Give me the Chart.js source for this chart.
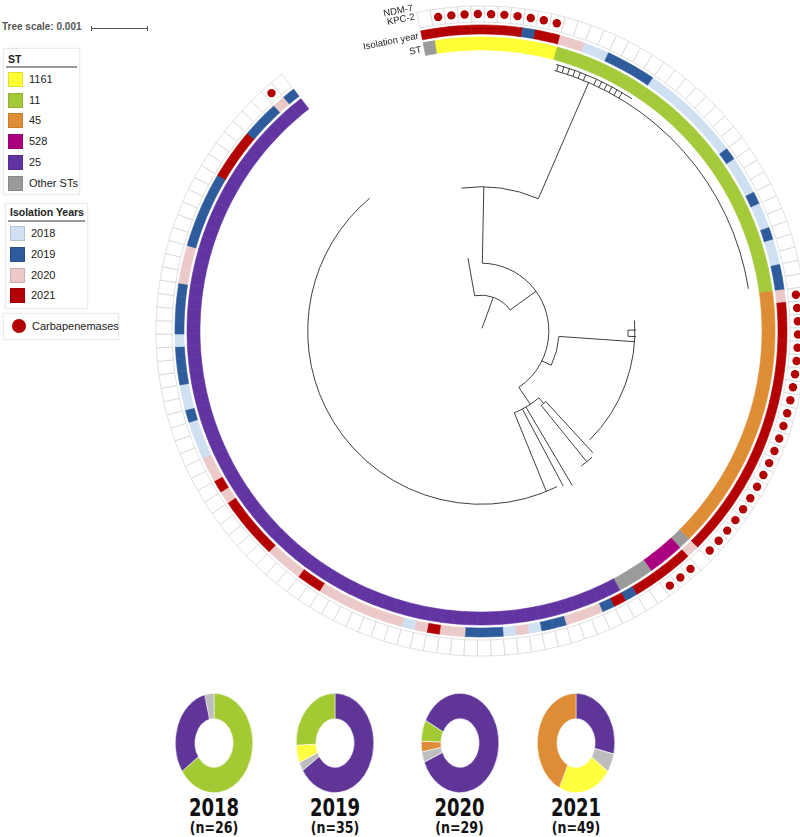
<!DOCTYPE html>
<html>
<head>
<meta charset="utf-8">
<script src="https://cdn.jsdelivr.net/npm/chart.js@4.4.1/dist/chart.umd.min.js"></script>
<style>
  body { margin:0; width:800px; height:837px; overflow:hidden; background:#fff; position:relative;
         font-family:"Liberation Sans", Arial, sans-serif; color:#222; }
  canvas { position:absolute; }
  #ring { left:145.5px; top:-4.5px; width:661px; height:670px; }
  .pie { top:693px; width:78px; height:100px; }
  .box { position:absolute; background:#fff; border:1px solid #ececec; box-shadow:0 0 2px #f0f0f0; }
  .ttl { position:absolute; left:4px; font-weight:bold; font-size:10.5px; color:#222; }
  .rule { position:absolute; left:2px; right:2px; height:0; border-top:2px solid #9a9a9a; }
  .sw { position:absolute; left:4px; width:13px; height:13px; border:1px solid rgba(0,0,0,0.12); }
  .lab { position:absolute; left:25px; font-size:11px; line-height:14px; color:#222; }
  #scaleTxt { position:absolute; left:2px; top:21px; font-size:10px; font-weight:bold; color:#555; }
  #scaleBar { position:absolute; left:91px; top:28px; width:57px; border-top:1px solid #555; }
  #scaleBar:before, #scaleBar:after { content:""; position:absolute; top:-3px; height:5px; border-left:1px solid #555; }
  #scaleBar:before { left:0; } #scaleBar:after { right:0; }
  .yr { position:absolute; width:80px; text-align:center; font-weight:bold; color:#111;
        font-family:"Liberation Sans Narrow","Arial Narrow","DejaVu Sans Condensed",sans-serif; font-stretch:condensed; }
  .yr.big { top:796px; font-size:20px; transform:scaleY(1.2); }
  .yr.small { top:819px; font-size:14px; transform:scaleY(1.15); }
</style>
</head>
<body>
<div id="scaleTxt">Tree scale: 0.001</div>
<div id="scaleBar"></div>

<div class="box" id="stBox" style="left:3px;top:48px;width:75px;height:145px;">
  <div class="ttl" style="top:4px;">ST</div>
  <div class="rule" style="top:17px;"></div>
</div>
<div class="box" id="yrBox" style="left:5px;top:203px;width:81px;height:104px;">
  <div class="ttl" style="top:2px;">Isolation Years</div>
  <div class="rule" style="top:16px;"></div>
</div>
<div class="box" style="left:3px;top:313px;width:114px;height:25px;">
  <div style="position:absolute;left:8px;top:5px;width:14px;height:14px;border-radius:50%;background:#b30000;"></div>
  <div class="lab" style="left:28px;top:5px;">Carbapenemases</div>
</div>

<canvas id="ring" width="670" height="670"></canvas>
<canvas id="pie0" class="pie" width="100" height="100" style="left:175px;width:78px;height:100px;"></canvas>
<canvas id="pie1" class="pie" width="100" height="100" style="left:296px;width:78px;height:100px;"></canvas>
<canvas id="pie2" class="pie" width="100" height="100" style="left:420.5px;width:78px;height:100px;"></canvas>
<canvas id="pie3" class="pie" width="100" height="100" style="left:537px;width:78px;height:100px;"></canvas>

<script>
// ---- legend / categories
const stNames = ["1161", "11", "45", "528", "25", "Other STs"];
const stColors = ["#ffff33", "#a4ca3a", "#df8d35", "#ab007f", "#6234a2", "#9a9a9a"];
const yearNames = ["2018", "2019", "2020", "2021"];
const yearColors = ["#cfe0f2", "#2d5b9b", "#ecc9c9", "#b30000"];

// ---- ring data, tips in clockwise order (run lengths)
const stRuns = [["Other STs",1],["1161",10],["11",28],["45",22],["Other STs",1],["528",3],["Other STs",3],["25",71]];
const yearRuns = [
  ["2021",8],["2019",1],["2021",2],["2020",2],["2018",2],["2019",4],["2018",8],["2019",1],["2018",3],["2019",1],
  ["2018",2],["2019",1],["2018",2],["2019",2],
  ["2020",1],["2021",21],["2020",1],["2021",5],["2019",1],["2021",1],["2019",1],
  ["2020",3],["2019",2],["2018",1],["2020",1],["2018",1],["2019",3],["2020",2],["2021",1],["2020",1],["2018",1],
  ["2020",7],["2021",2],["2020",3],["2021",5],["2020",1],["2021",1],["2020",2],["2018",3],["2019",1],["2018",2],
  ["2019",3],["2018",1],["2019",4],["2020",3],["2019",6],["2021",4],["2019",3],["2020",1],["2019",1]
];
const carbaTips = [1,2,3,4,5,6,7,8,9,10,
  39,40,41,42,43,44,45,46,47,48,49,50,51,52,53,54,55,56,57,58,59,60,
  62,63,64,137];

// ---- tree (depth in units of 0.001 subst./site, position in tip units)
const treeMaxDepth = 4.93;
const treeArcs = [ // [depth, fromTip, toTip]
  [0.63, 0, 26.8], [1.19, 4.7, 65.1], [2.53, 1.0, 14.0], [4.75, 10.8, 38.0], [4.86, 10.8, 18.0],
  [1.37, 43.4, 52.6], [2.70, 40.1, 60.5], [2.58, 41.6, 42.6],
  [1.55, 62.2, 70.0], [1.68, 61.5, 63.0], [2.95, 62.0, 64.0], [3.04, 68.4, 137.6]
];
const treeRays = [ // [tip, fromDepth, toDepth]
  [12.6, 0.05, 0.63], [0, 0.63, 1.30], [26.8, 0.63, 1.19], [4.7, 1.19, 2.53], [14.0, 2.53, 4.75],
  [11, 4.75, 4.86], [11.5, 4.75, 4.86], [12, 4.75, 4.86], [12.5, 4.75, 4.86], [13, 4.75, 4.86], [13.5, 4.75, 4.86],
  [14.5, 4.75, 4.86], [15, 4.75, 4.86], [15.5, 4.75, 4.86], [16, 4.75, 4.86], [16.5, 4.75, 4.86], [17, 4.75, 4.86],
  [52.6, 1.19, 1.37], [43.4, 1.37, 2.70], [41.6, 2.58, 2.72], [42.6, 2.58, 2.72],
  [65.1, 1.19, 1.55], [62.2, 1.55, 1.68], [61.5, 1.68, 2.90], [63.0, 1.68, 2.95],
  [66.5, 1.55, 3.15], [67.6, 1.55, 3.08], [70.0, 1.55, 3.04]
];

// ---- yearly ST doughnuts
const pieYears = ["2018", "2019", "2020", "2021"];
const pieN = [26, 35, 29, 49];
const pieST2018 = ["11", "25", "Other STs"];          const pieVal2018 = [17, 8, 1];
const pieST2019 = ["25", "Other STs", "1161", "11"];  const pieVal2019 = [23, 1, 2, 9];
const pieST2020 = ["25", "Other STs", "45", "11"];    const pieVal2020 = [25, 1, 1, 2];
const pieST2021 = ["25", "Other STs", "1161", "45"];  const pieVal2021 = [14, 3, 11, 21];
const pieRotation = [0, 0, 297, 0];
const pieColor = {"1161":"#ffff40", "11":"#a3ca33", "45":"#de8d36", "25":"#5f3598", "Other STs":"#bdbdbd"};

// legend rows
const stBox = document.getElementById("stBox");
stNames.forEach((n, i) => {
  let top = 23 + i * 20.7;
  stBox.insertAdjacentHTML("beforeend",
    `<div class="sw" style="top:${top}px;background:${stColors[i]}"></div><div class="lab" style="top:${top}px">${n}</div>`);
});
const yrBox = document.getElementById("yrBox");
yearNames.forEach((n, i) => {
  let top = 22 + i * 20.8;
  yrBox.insertAdjacentHTML("beforeend",
    `<div class="sw" style="top:${top}px;background:${yearColors[i]}"></div><div class="lab" style="top:${top}px">${n}</div>`);
});

// expand runs to one value per tip
function expand(runs) {
  let out = [];
  runs.forEach(r => { for (let k = 0; k < r[1]; k++) out.push(r[0]); });
  return out;
}
const stTips = expand(stRuns);
const yearTips = expand(yearRuns);
const ones = stTips.map(() => 1);
const stFill = stTips.map(s => stColors[stNames.indexOf(s)]);
const yearFill = yearTips.map(y => yearColors[yearNames.indexOf(y)]);

const treePlugin = {
  id: "tree",
  afterDatasetsDraw(chart) {
    const ctx = chart.ctx;
    const st = chart.getDatasetMeta(4).data[0];
    const yr = chart.getDatasetMeta(2).data[0];
    const grid = chart.getDatasetMeta(0).data[0];
    const cx = st.x, cy = st.y;
    const step = st.endAngle - st.startAngle;
    const ang = t => st.startAngle + (t + 0.5) * step;
    const rad = d => d * st.innerRadius / treeMaxDepth;

    ctx.save();
    ctx.strokeStyle = "#2a2a2a";
    ctx.lineWidth = 0.9;
    treeArcs.forEach(a => {
      ctx.beginPath();
      ctx.arc(cx, cy, rad(a[0]), ang(a[1]), ang(a[2]));
      ctx.stroke();
    });
    treeRays.forEach(r => {
      let a = ang(r[0]);
      ctx.beginPath();
      ctx.moveTo(cx + rad(r[1]) * Math.cos(a), cy + rad(r[1]) * Math.sin(a));
      ctx.lineTo(cx + rad(r[2]) * Math.cos(a), cy + rad(r[2]) * Math.sin(a));
      ctx.stroke();
    });

    // carbapenemase dots
    let rd = (grid.innerRadius + grid.outerRadius) / 2;
    ctx.fillStyle = "#b30000";
    carbaTips.forEach(t => {
      let a = ang(t);
      ctx.beginPath();
      ctx.arc(cx + rd * Math.cos(a), cy + rd * Math.sin(a), 4.2, 0, Math.PI * 2);
      ctx.fill();
    });

    // ring labels at the start of the rings
    const labels = [
      ["ST", (st.innerRadius + st.outerRadius) / 2],
      ["Isolation year", (yr.innerRadius + yr.outerRadius) / 2],
      ["KPC-2", grid.innerRadius + 12],
      ["NDM-7", grid.outerRadius + 5]
    ];
    let a0 = st.startAngle;
    ctx.fillStyle = "#222";
    ctx.font = "9.5px 'Liberation Sans', Arial, sans-serif";
    ctx.textAlign = "right";
    ctx.textBaseline = "middle";
    labels.forEach(l => {
      ctx.save();
      ctx.translate(cx + l[1] * Math.cos(a0), cy + l[1] * Math.sin(a0));
      ctx.rotate(a0 + Math.PI / 2);
      ctx.fillText(l[0], -3, 0);
      ctx.restore();
    });
    ctx.restore();
  }
};

new Chart(document.getElementById("ring"), {
  type: "doughnut",
  data: {
    labels: stTips.map((s, i) => "tip " + (i + 1)),
    datasets: [
      { data: ones, backgroundColor: "#ffffff", borderColor: "#d3d3d3", borderWidth: 0.7, weight: 16 },
      { data: ones, backgroundColor: "rgba(0,0,0,0)", borderWidth: 0, weight: 3 },
      { data: ones, backgroundColor: yearFill, borderColor: yearFill, borderWidth: 0.6, weight: 9 },
      { data: ones, backgroundColor: "rgba(0,0,0,0)", borderWidth: 0, weight: 3 },
      { data: ones, backgroundColor: stFill, borderColor: stFill, borderWidth: 0.6, weight: 13 }
    ]
  },
  options: {
    responsive: false,
    animation: false,
    events: [],
    rotation: -11.37,
    circumference: 333.6,
    radius: 325,
    cutout: "86.46%",
    plugins: { legend: { display: false }, tooltip: { enabled: false } }
  },
  plugins: [treePlugin]
});

const pieST = [pieST2018, pieST2019, pieST2020, pieST2021];
const pieVal = [pieVal2018, pieVal2019, pieVal2020, pieVal2021];
const pieLeft = [175, 296, 420.5, 537];
pieYears.forEach((y, i) => {
  new Chart(document.getElementById("pie" + i), {
    type: "doughnut",
    data: {
      labels: pieST[i],
      datasets: [{
        data: pieVal[i],
        backgroundColor: pieST[i].map(s => pieColor[s]),
        borderColor: "#ffffff",
        borderWidth: 0.6
      }]
    },
    options: {
      responsive: false,
      animation: false,
      events: [],
      rotation: pieRotation[i],
      cutout: "49%",
      plugins: { legend: { display: false }, tooltip: { enabled: false } }
    }
  });
  document.body.insertAdjacentHTML("beforeend",
    `<div class="yr big" style="left:${pieLeft[i] - 1}px">${y}</div>` +
    `<div class="yr small" style="left:${pieLeft[i] - 1}px">(n=${pieN[i]})</div>`);
});
</script>
</body>
</html>
